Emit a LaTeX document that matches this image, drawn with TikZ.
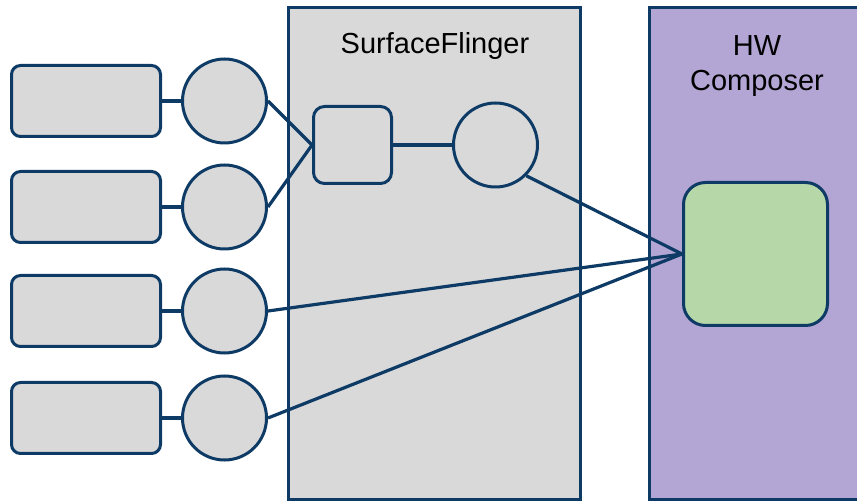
\documentclass[tikz,border=0pt]{standalone}
\usepackage{fontspec}
\setmainfont{Liberation Sans}
\usetikzlibrary{positioning}
\definecolor{mNavy}{HTML}{0E3B66}
\definecolor{mGray}{HTML}{D9D9D9}
\definecolor{mPurple}{HTML}{B3A5D4}
\definecolor{mGreen}{HTML}{B6D7A8}
\tikzset{
  layerbox/.style={draw=mNavy, fill=mGray, line width=3pt, rounded corners=9pt,
    minimum width=149pt, minimum height=71pt, inner sep=0pt},
  bufq/.style={draw=mNavy, fill=mGray, line width=3pt, circle,
    minimum size=84pt, inner sep=0pt},
  link/.style={draw=mNavy, line width=3.2pt},
}
\begin{document}
\begin{tikzpicture}[x=1pt, y=-1pt]
    \useasboundingbox (0,0) rectangle (857,502);
    \clip (0,0) rectangle (857,502);
    % big boxes
    \node[draw=mNavy, fill=mGray, line width=3pt, minimum width=292pt, minimum height=492pt,
      inner sep=0pt] (sf) at (434.5,253.5) {};
    \node[draw=mNavy, fill=mPurple, line width=3pt, minimum width=300pt, minimum height=492pt,
      inner sep=0pt] (hwc) at (799.5,253.5) {};
    \node[font=\fontsize{29}{33}\selectfont] (sftitle) at (435,46) {SurfaceFlinger};
    \node[font=\fontsize{29}{35}\selectfont, align=center] (hwctitle) at (757,66) {HW\\Composer};
    % left side
    \foreach \i/\y in {1/101, 2/207, 3/311, 4/418} {
      \node[layerbox] (layer\i) at (86,\y) {};
      \node[bufq] (bq\i) at (224.5,\y) {};
      \draw[link] (layer\i) -- (bq\i);
    }
    % inside SurfaceFlinger
    \node[draw=mNavy, fill=mGray, line width=3pt, rounded corners=11pt, minimum width=78pt,
      minimum height=77pt, inner sep=0pt] (gles) at (352.5,145) {};
    \node[bufq] (fb) at (495.5,145) {};
    \draw[link] (gles) -- (fb);
    % inside HW Composer
    \node[draw=mNavy, fill=mGreen, line width=3pt, rounded corners=22pt, minimum width=144pt,
      minimum height=143pt, inner sep=0pt] (ovl) at (755.5,254) {};
    % connectors
    \draw[link] (bq1.east) -- (gles.west);
    \draw[link] (bq2.east) -- (gles.west);
    \draw[link] (bq3.east) -- (ovl.west);
    \draw[link] (bq4.east) -- (ovl.west);
    \draw[link] (fb.south east) -- (ovl.west);
\end{tikzpicture}
\end{document}
